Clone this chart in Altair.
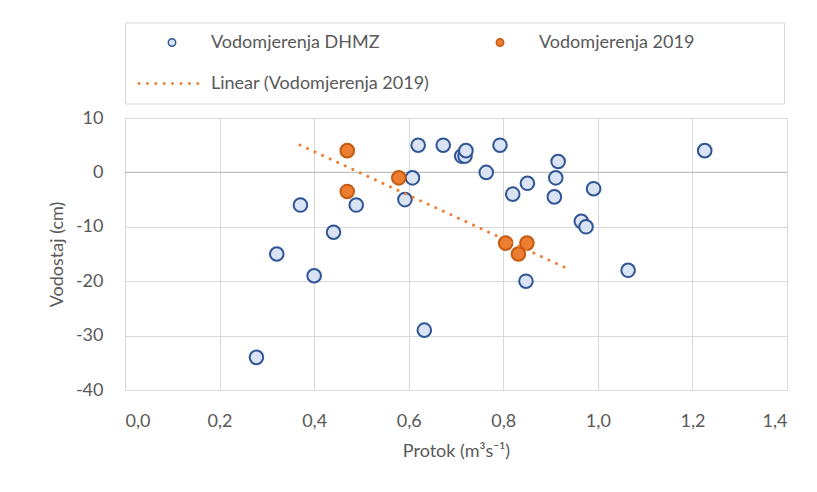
import math
import altair as alt
import pandas as pd

# ---- data ----
dhmz_q = [0.278, 0.321, 0.371, 0.400, 0.441, 0.489, 0.592, 0.608, 0.620, 0.633,
          0.673, 0.712, 0.719, 0.721, 0.764, 0.793, 0.820, 0.851, 0.908, 0.911,
          0.916, 0.965, 0.975, 0.991, 0.848, 1.064, 1.226]
dhmz_h = [-34, -15, -6, -19, -11, -6, -5, -1, 5, -29,
          5, 3, 3, 4, 0, 5, -4, -2, -4.5, -1,
          2, -9, -10, -3, -20, -18, 4]
m2019_q = [0.470, 0.470, 0.579, 0.805, 0.832, 0.850]
m2019_h = [4, -3.5, -1, -13, -15, -13]

series_names = ["Vodomjerenja DHMZ", "Vodomjerenja 2019", "Linear (Vodomjerenja 2019)"]
x_ticks = [0.0, 0.2, 0.4, 0.6, 0.8, 1.0, 1.2, 1.4]
y_ticks = [-40, -30, -20, -10, 0, 10]
zero_line = [0]
trend_extent = [0.37, 0.94]

x_title = "Protok (m³s⁻¹)"
y_title = "Vodostaj (cm)"

# ---- styling ----
FONT = "Lato"
FS = 18
TXT = "#595959"
GRID = "#d9d9d9"
LEG_SYMBOL_SIZE = 55

# dotted-line legend symbol (custom path in symbol units)
unit = math.sqrt(LEG_SYMBOL_SIZE) / 2
dots_px = [-33 + 8.4 * i for i in range(8)]
r = 0.8 / unit
parts = []
for d in dots_px:
    c = d / unit
    parts.append(f"M{c - r:.3f},0L{c:.3f},{-r:.3f}L{c + r:.3f},0L{c:.3f},{r:.3f}Z")
dotted_path = "".join(parts)

pts = pd.DataFrame({
    "q": dhmz_q + m2019_q,
    "h": dhmz_h + m2019_h,
    "series": [series_names[0]] * len(dhmz_q) + [series_names[1]] * len(m2019_q),
})
trend_df = pd.DataFrame({"q": m2019_q, "h": m2019_h})
zero_df = pd.DataFrame({"h": zero_line})

x_enc = alt.X("q:Q", title=x_title,
              scale=alt.Scale(domain=[0, 1.4], nice=False, zero=False),
              axis=alt.Axis(values=x_ticks, format=".1f",
                            labelExpr="replace(datum.label, '.', ',')",
                            labelPadding=22, titlePadding=12, tickSize=0))
y_enc = alt.Y("h:Q", title=y_title,
              scale=alt.Scale(domain=[-40, 10], nice=False, zero=False),
              axis=alt.Axis(values=y_ticks, labelExpr="replace(datum.label, '\u2212', '-')",
                            labelPadding=22, titlePadding=9, tickSize=0))

# invisible (blank Braille) padding so the legend frame reaches the right edge
pad = "\u2800" * 6
legend = alt.Legend(
    title=None,
    labelExpr=f"datum.value == 'Vodomjerenja 2019' ? datum.label + '{pad}' : datum.label",
)

fill_scale = alt.Scale(domain=series_names, range=["#dae3f3", "#ed7d31", "#ed7d31"])
stroke_scale = alt.Scale(domain=series_names, range=["#2f5597", "#c55a11", "#ed7d31"])
shape_scale = alt.Scale(domain=series_names, range=["circle", "circle", dotted_path])

rule = alt.Chart(zero_df).mark_rule(color="#bfbfbf", strokeWidth=1.2).encode(y=y_enc)

points = alt.Chart(pts).mark_point(filled=True, size=185, strokeWidth=2, opacity=1).encode(
    x=x_enc,
    y=y_enc,
    fill=alt.Fill("series:N", scale=fill_scale, legend=legend),
    stroke=alt.Stroke("series:N", scale=stroke_scale, legend=legend),
    shape=alt.Shape("series:N", scale=shape_scale, legend=legend),
)

trend = alt.Chart(trend_df).transform_regression(
    "q", "h", extent=trend_extent
).mark_line(color="#ed7d31", strokeWidth=3, strokeDash=[0.01, 8.3], strokeCap="round").encode(
    x=x_enc, y=y_enc
)

chart = alt.layer(rule, points, trend).properties(
    width=662,
    height=272,
    padding={"left": 117, "top": 110, "right": 22, "bottom": 94},
    autosize=alt.AutoSizeParams(type="none"),
).configure_view(stroke=None).configure_axis(
    grid=True, gridColor=GRID, gridWidth=1, domain=False, ticks=False,
    labelFont=FONT, labelFontSize=FS, labelColor=TXT,
    titleFont=FONT, titleFontSize=FS, titleColor=TXT, titleFontWeight="normal",
).configure_legend(
    orient="none", legendX=0, legendY=-95.5, columns=2, direction="horizontal",
    padding=11, strokeColor=GRID, fillColor="white", cornerRadius=0,
    labelFont=FONT, labelFontSize=FS, labelColor=TXT, labelLimit=600,
    symbolSize=LEG_SYMBOL_SIZE, symbolStrokeWidth=1.5,
    symbolOffset=27, labelOffset=30, rowPadding=23, columnPadding=34,
)

chart.save("out.html", embed_options={"renderer": "svg", "actions": False})
